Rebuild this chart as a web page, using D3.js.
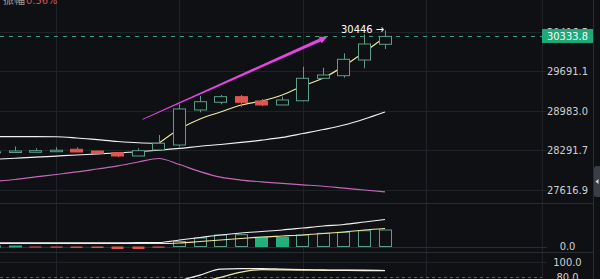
<!DOCTYPE html>
<html>
<head>
<meta charset="utf-8">
<script src="https://cdn.jsdelivr.net/npm/d3@7"></script>
<style>
html, body { margin: 0; padding: 0; background: #0f1014; overflow: hidden; }
svg { display: block; }
text { font-family: "Liberation Sans Narrow", "DejaVu Sans Condensed", Roboto, sans-serif; font-size: 11px; }
</style>
</head>
<body>
<svg id="chart" width="600" height="279"></svg>
<script>
"use strict";

// candle slots, oldest first (slot -1 is cut off at the left edge)
const slots = d3.range(-1, 19);

const opens  = [28262, 28257, 28261, 28271, 28313, 28283, 28254, 28197, 28301, 28387,
                29001, 29138, 29238, 29161, 29090, 29165, 29568, 29615, 29900, 30189];
const highs  = [28272, 28361, 28330, 28347, 28347, 28290, 28258, 28330, 28561, 29102,
                29250, 29268, 29268, 29196, 29238, 29778, 29760, 30023, 30374, 30446];
const lows   = [28255, 28255, 28258, 28268, 28264, 28240, 28175, 28195, 28298, 28358,
                28960, 29102, 29054, 29067, 29085, 29155, 29560, 29579, 29749, 30102];
const closes = [28268, 28283, 28289, 28296, 28266, 28244, 28197, 28289, 28417, 29019,
                29148, 29238, 29138, 29090, 29179, 29568, 29628, 29913, 30194, 30333.8];

// moving averages on the price panel
const maLead  = [28532, 28532, 28532, 28530, 28509, 28479, 28448, 28426, 28417, null,
                 null, null, null, null, null, null, null, null, null, null];
const maFast  = [null, null, null, null, null, null, null, null, 28417, 28666,
                 28842, 28965, 29090, 29161, 29268, 29429, 29573, 29791, 30047, 30324];
const maSlow  = [28140, 28158, 28176, 28195, 28214, 28232, 28251, 28270, 28296, 28327,
                 28365, 28396, 28431, 28471, 28518, 28587, 28657, 28736, 28842, 28965];
const maLong  = [27761, 27795, 27838, 27880, 27923, 27974, 28026, 28094, 28154, 28050,
                 27930, 27835, 27785, 27755, 27730, 27705, 27680, 27648, 27617, 27584];

const priceTicks = [30416.5, 29691.1, 28983.0, 28291.7, 27616.9];
const lastPrice = 30333.8;
const highMark = 30446;
const gridSlots = [2, 8, 14, 20];

// hand drawn arrow (slot, price)
const arrowFrom = [6.2, 28836];
const arrowTo = [15.2, 30329];

// MACD panel
const macdHist = [5, 5, -10, -12, -14, -15, -25, -25, -12, 50,
                  85, 115, 118, 92, 90, 115, 132, 142, 158, 165];
const macdDif  = [37, 37, 37, 37, 37, 37, 37, 38, 40, 65,
                  90, 115, 135, 150, 165, 185, 205, 220, 245, 270];
const macdDea  = [30, 30, 30, 30, 30, 30, 30, 30, 30, 35,
                  50, 65, 80, 95, 105, 115, 130, 145, 165, 180];
const macdTicks = [0];

// lower oscillator panel
const oscFast = [48, 52, 50, 53, 47, 45, 40, 52, 62, 75,
                 83, 90.9, 91.6, 91.6, 90.9, 90.2, 89.8, 89.5, 89.5, 89.1];
const oscSlow = [45, 47, 48, 49, 48, 46, 44, 47, 55, 65,
                 73, 80, 86.8, 90.2, 89.8, 89.5, 89.3, 89.2, 89.0, 88.8];
const oscTicks = [100, 80];

const bg = "#0f1014", gridColor = "#1f2227", up = "#5a9e86", upFill = "#22b07d",
      down = "#e0564f", axisText = "#cfcfcf";

const svg = d3.select("#chart"),
    plotRight = 542,
    axisMid = 567.5,
    edge = 593,
    x = d3.scaleLinear().domain([0, 18]).range([15, 385]),
    y = d3.scaleLog().domain([27616.9, 30416.5]).range([190, 32]),
    yMacd = d3.scaleLinear().domain([-55, 435]).range([252, 203]),
    yOsc = d3.scaleLinear().domain([80, 100]).range([277.3, 262.3]);

const px = v => Math.round(v) + 0.5;

svg.append("rect").attr("width", 600).attr("height", 279).attr("fill", bg);

// grid
const grid = svg.append("g").attr("stroke", gridColor).attr("stroke-width", 1);
grid.selectAll(".hgrid")
    .data(priceTicks)
    .enter().append("line")
    .attr("x1", 0).attr("x2", plotRight + 5)
    .attr("y1", d => px(y(d))).attr("y2", d => px(y(d)));
grid.selectAll(".vgrid")
    .data(gridSlots)
    .enter().append("line")
    .attr("x1", d => px(x(d))).attr("x2", d => px(x(d)))
    .attr("y1", 0).attr("y2", 279);
grid.append("line").attr("x1", px(plotRight)).attr("x2", px(plotRight)).attr("y1", 0).attr("y2", 279);
grid.append("line").attr("x1", px(edge)).attr("x2", px(edge)).attr("y1", 0).attr("y2", 279).attr("stroke", "#2a2c31");
[203, 252].forEach(v => grid.append("line").attr("x1", 0).attr("x2", edge).attr("y1", v + 0.5).attr("y2", v + 0.5).attr("stroke", "#2a2d32"));
grid.append("line").attr("x1", 0).attr("x2", plotRight + 5)
    .attr("y1", px(yMacd(0))).attr("y2", px(yMacd(0))).attr("stroke", "#2a2d32");
grid.append("line").attr("x1", 0).attr("x2", plotRight + 5)
    .attr("y1", px(yOsc(100))).attr("y2", px(yOsc(100)));
svg.append("line").attr("x1", 0).attr("x2", plotRight)
    .attr("y1", px(yOsc(80))).attr("y2", px(yOsc(80)))
    .attr("stroke", "#8a3f8a").attr("stroke-dasharray", "3,3");

// clip lower panels
svg.append("clipPath").attr("id", "clipLow").append("rect")
    .attr("x", 0).attr("y", 253).attr("width", plotRight).attr("height", 30);

// price panel lines
const priceLine = vals => d3.line()
    .defined(d => vals[d] != null)
    .x(d => x(slots[d]))
    .y(d => y(vals[d]))
    .curve(d3.curveMonotoneX)(d3.range(slots.length));

const lines = svg.append("g").attr("fill", "none").attr("stroke-width", 1.2);
lines.append("path").attr("d", priceLine(maLong)).attr("stroke", "#c666b8");
lines.append("path").attr("d", priceLine(maSlow)).attr("stroke", "#f2f2f2");
lines.append("path").attr("d", priceLine(maLead)).attr("stroke", "#f2f2f2");

// candles
const candles = svg.append("g").selectAll(".candle")
    .data(slots)
    .enter().append("g");
candles.append("line")
    .attr("x1", (d, i) => px(x(d))).attr("x2", (d, i) => px(x(d)))
    .attr("y1", (d, i) => y(highs[i])).attr("y2", (d, i) => y(lows[i]))
    .attr("stroke", (d, i) => closes[i] >= opens[i] ? up : down);
candles.append("rect")
    .attr("x", d => px(x(d) - 6.5))
    .attr("width", 12)
    .attr("y", (d, i) => y(Math.max(opens[i], closes[i])))
    .attr("height", (d, i) => Math.max(1, Math.abs(y(opens[i]) - y(closes[i]))))
    .attr("fill", (d, i) => closes[i] >= opens[i] ? bg : down)
    .attr("stroke", (d, i) => closes[i] >= opens[i] ? up : down);

lines.append("path").attr("d", priceLine(maFast)).attr("stroke", "#efe9a2");

// hand drawn magenta arrow
{
    const sx = x(arrowFrom[0]), sy = y(arrowFrom[1]),
        ex = x(arrowTo[0]), ey = y(arrowTo[1]),
        len = Math.hypot(ex - sx, ey - sy),
        ux = (ex - sx) / len, uy = (ey - sy) / len,
        nx = -uy, ny = ux,
        bx = ex - ux * 8, by = ey - uy * 8;
    const pts = [
        [sx + nx * 0.4, sy + ny * 0.4],
        [bx + nx * 1.6, by + ny * 1.6],
        [bx + nx * 3.6, by + ny * 3.6],
        [ex, ey],
        [bx - nx * 3.6, by - ny * 3.6],
        [bx - nx * 1.6, by - ny * 1.6],
        [sx - nx * 0.4, sy - ny * 0.4]
    ];
    svg.append("path").attr("d", "M" + pts.map(p => p.join(",")).join("L") + "Z")
        .attr("fill", "#e445e4");
}

// MACD panel
const macd = svg.append("g");
macd.selectAll("rect")
    .data(slots)
    .enter().append("rect")
    .attr("x", d => px(x(d) - 6.5))
    .attr("width", 12)
    .attr("y", (d, i) => Math.min(yMacd(macdHist[i]), yMacd(0)))
    .attr("height", (d, i) => Math.max(1, Math.abs(yMacd(macdHist[i]) - yMacd(0))))
    .attr("fill", (d, i) => macdHist[i] < 0 ? down
        : (i > 0 && macdHist[i] < macdHist[i - 1]) || macdHist[i] < 20 ? upFill : bg)
    .attr("stroke", (d, i) => macdHist[i] < 0 ? "none"
        : (i > 0 && macdHist[i] < macdHist[i - 1]) || macdHist[i] < 20 ? upFill : up);

const panelLine = (vals, sc) => d3.line()
    .x((d, i) => x(slots[i]))
    .y(d => sc(d))
    .curve(d3.curveMonotoneX)(vals);
macd.append("path").attr("d", panelLine(macdDea, yMacd)).attr("fill", "none").attr("stroke", "#efe9a2").attr("stroke-width", 1.2);
macd.append("path").attr("d", panelLine(macdDif, yMacd)).attr("fill", "none").attr("stroke", "#f2f2f2").attr("stroke-width", 1.2);

// oscillator panel
const osc = svg.append("g").attr("clip-path", "url(#clipLow)").attr("fill", "none").attr("stroke-width", 1.2);
osc.append("path").attr("d", panelLine(oscSlow, yOsc)).attr("stroke", "#efe9a2");
osc.append("path").attr("d", panelLine(oscFast, yOsc)).attr("stroke", "#f2f2f2");

// last price line and label
svg.append("line").attr("x1", 0).attr("x2", plotRight + 4)
    .attr("y1", px(y(lastPrice))).attr("y2", px(y(lastPrice)))
    .attr("stroke", "#3a9a7e").attr("stroke-dasharray", "4,5");

// axis labels
const labels = svg.append("g").attr("fill", axisText).attr("text-anchor", "middle");
labels.selectAll(".price")
    .data(priceTicks)
    .enter().append("text")
    .attr("x", axisMid).attr("y", d => y(d)).attr("dy", "0.36em")
    .text(d => d.toFixed(1));
labels.selectAll(".macd")
    .data(macdTicks)
    .enter().append("text")
    .attr("x", axisMid).attr("y", d => yMacd(d)).attr("dy", "0.36em")
    .text(d => d.toFixed(1));
labels.selectAll(".osc")
    .data(oscTicks)
    .enter().append("text")
    .attr("x", axisMid).attr("y", d => yOsc(d)).attr("dy", "0.36em")
    .text(d => d.toFixed(1));

svg.append("rect")
    .attr("x", plotRight).attr("y", y(lastPrice) - 7.5)
    .attr("width", edge - plotRight).attr("height", 14)
    .attr("fill", "#1fa878");
svg.append("text")
    .attr("x", axisMid).attr("y", y(lastPrice)).attr("dy", "0.36em")
    .attr("text-anchor", "middle").attr("fill", "#ffffff")
    .text(lastPrice.toFixed(1));

// highest price marker
svg.append("text")
    .attr("x", x(18) - 1).attr("y", y(highMark) + 3)
    .attr("text-anchor", "end").attr("fill", "#ffffff")
    .text(highMark + " \u2192");

// header remnant (cut at the top edge)
svg.append("text").attr("x", 3).attr("y", 4)
    .style("font-family", "'Noto Sans CJK SC', sans-serif").style("font-size", "11px")
    .attr("fill", "#9a9a9a").text("振幅");
svg.append("text").attr("x", 26).attr("y", 4)
    .attr("fill", "#d9534f").text("0.56%");

// side handle
svg.append("path")
    .attr("d", "M600,166H596.5Q594,166 594,168.5V194.5Q594,197 596.5,197H600Z")
    .attr("fill", "#3b3d44");
svg.append("path").attr("d", "M595.5,181.5L598.5,179V184Z").attr("fill", "#dddddd");
</script>
</body>
</html>
